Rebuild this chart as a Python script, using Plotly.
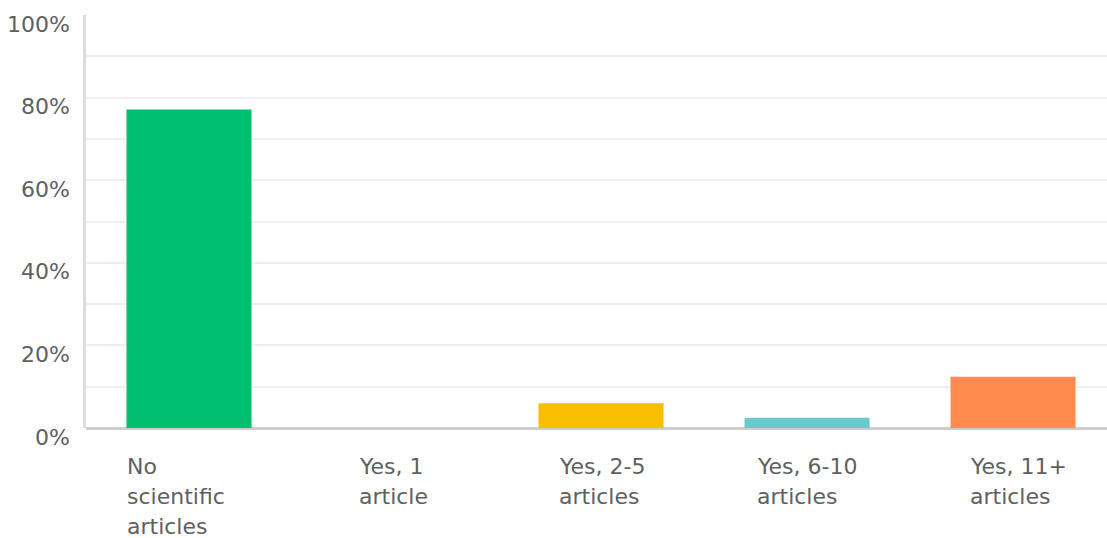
import plotly.graph_objects as go

categories = ["No\nscientific\narticles", "Yes, 1\narticle", "Yes, 2-5\narticles", "Yes, 6-10\narticles", "Yes, 11+\narticles"]
values = [77.1, 0.0, 6.0, 2.5, 12.4]
colors = ["#00BF6F", "#00BF6F", "#F9BE00", "#6BC8CD", "#FF8B4F"]
y_ticks = [0, 20, 40, 60, 80, 100]
y_tick_labels = ["0%", "20%", "40%", "60%", "80%", "100%"]

FONT = "DejaVu Sans"
TXT = "#5F5F5F"
BAR_W = 0.607
# pixel offset of each label block's left edge from its bar centre
label_offsets_px = [-64, -38, -44, -52, -45]

x = list(range(len(categories)))
fig = go.Figure(go.Bar(x=x, y=values, marker=dict(color=colors, line=dict(width=0)), width=BAR_W))

annotations = []
for i, lab in enumerate(categories):
    for j, line in enumerate(lab.split("\n")):
        annotations.append(dict(x=i, y=0, xref="x", yref="paper", text=line,
                                showarrow=False, xanchor="left", yanchor="middle",
                                yshift=-38 - 30 * j, xshift=label_offsets_px[i],
                                font=dict(family=FONT, size=22, color=TXT)))
for v, t in zip(y_ticks, y_tick_labels):
    annotations.append(dict(x=0, y=v, xref="paper", yref="y", text=t, showarrow=False,
                            xanchor="right", yanchor="middle", xshift=-14, yshift=-9,
                            font=dict(family=FONT, size=22, color=TXT)))

fig.update_layout(
    width=1107, height=538,
    margin=dict(l=86, r=0, t=15, b=110),
    plot_bgcolor="white", paper_bgcolor="white",
    showlegend=False,
    annotations=annotations,
    xaxis=dict(range=[-0.5, 4.456], showticklabels=False, showgrid=False, zeroline=False,
               showline=False, fixedrange=True),
    yaxis=dict(range=[0, 100], dtick=10, showticklabels=False, showgrid=True,
               gridcolor="#EFEFEF", gridwidth=2, zeroline=True, zerolinecolor="#CCCCCC",
               zerolinewidth=3, showline=True, linecolor="#DDDDDD", linewidth=3,
               fixedrange=True),
)

fig.write_html("out.html")
